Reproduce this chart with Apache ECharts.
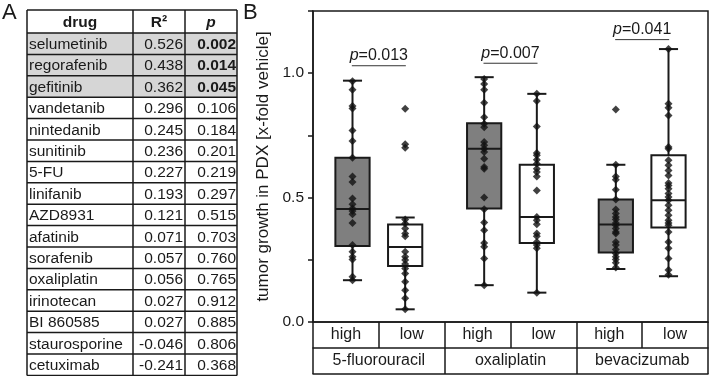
<!DOCTYPE html>
<html>
<head>
<meta charset="utf-8">
<script src="https://cdn.jsdelivr.net/npm/echarts@6/dist/echarts.min.js"></script>
<style>
  html, body { margin: 0; padding: 0; background: #fff; }
  #chart { width: 709px; height: 376px; }
</style>
</head>
<body>
<div id="chart"></div>
<script>
// panel A: table
const drugs = ["selumetinib", "regorafenib", "gefitinib", "vandetanib", "nintedanib", "sunitinib", "5-FU",
  "linifanib", "AZD8931", "afatinib", "sorafenib", "oxaliplatin", "irinotecan", "BI 860585", "staurosporine", "cetuximab"];
const r2Vals = [0.526, 0.438, 0.362, 0.296, 0.245, 0.236, 0.227, 0.193, 0.121, 0.071, 0.057, 0.056, 0.027, 0.027, -0.046, -0.241];
const pVals = [0.002, 0.014, 0.045, 0.106, 0.184, 0.201, 0.219, 0.297, 0.515, 0.703, 0.760, 0.765, 0.912, 0.885, 0.806, 0.368];

// panel B: boxplots
const drugGroups = ["5-fluorouracil", "oxaliplatin", "bevacizumab"];
const levels = ["high", "low", "high", "low", "high", "low"];
// [lower whisker, q1, median, q3, upper whisker]
const boxStats = [
  [0.168, 0.305, 0.454, 0.660, 0.970],
  [0.051, 0.225, 0.301, 0.392, 0.420],
  [0.148, 0.456, 0.696, 0.799, 0.984],
  [0.118, 0.318, 0.422, 0.632, 0.917],
  [0.213, 0.279, 0.392, 0.492, 0.632],
  [0.184, 0.380, 0.489, 0.670, 1.097]
];
const points = [
  [0.968, 0.933, 0.868, 0.858, 0.770, 0.727, 0.660, 0.585, 0.563, 0.496, 0.473, 0.456, 0.446, 0.433, 0.398, 0.309, 0.282, 0.262, 0.251, 0.182, 0.168],
  [0.857, 0.714, 0.700, 0.412, 0.396, 0.376, 0.356, 0.345, 0.282, 0.262, 0.249, 0.233, 0.215, 0.195, 0.162, 0.128, 0.095, 0.051],
  [0.977, 0.957, 0.933, 0.881, 0.823, 0.797, 0.783, 0.723, 0.710, 0.696, 0.683, 0.656, 0.623, 0.616, 0.500, 0.453, 0.400, 0.369, 0.318, 0.302, 0.255, 0.148],
  [0.917, 0.888, 0.786, 0.679, 0.670, 0.652, 0.636, 0.616, 0.603, 0.585, 0.529, 0.422, 0.409, 0.393, 0.356, 0.345, 0.322, 0.309, 0.296, 0.118],
  [0.854, 0.632, 0.585, 0.572, 0.532, 0.492, 0.452, 0.436, 0.422, 0.412, 0.398, 0.389, 0.376, 0.362, 0.356, 0.322, 0.309, 0.291, 0.275, 0.262, 0.251, 0.238, 0.219],
  [1.097, 0.877, 0.861, 0.830, 0.703, 0.696, 0.650, 0.630, 0.609, 0.589, 0.559, 0.549, 0.536, 0.516, 0.502, 0.489, 0.469, 0.449, 0.429, 0.409, 0.398, 0.389, 0.362, 0.322, 0.296, 0.255, 0.209, 0.190]
];
const pTexts = ["0.013", "0.007", "0.041"];
const pLineY = [1.03, 1.04, 1.135];
const yTicks = [0, 0.25, 0.5, 0.75, 1.0, 1.25];

const FONT = "'Liberation Sans', Arial, sans-serif";
const INK = "#1a1a1a";
// box centers on a 0..6 value axis, pulled toward each pair's middle
const xPos = [0.6, 1.4, 2.6, 3.4, 4.6, 5.4];

// table built as graphic elements
function buildTable() {
  const cols = [27, 133, 185, 237];
  const top = 10, headH = 23, rowH = 21.4;
  const els = [];
  const bottom = top + headH + drugs.length * rowH;
  for (let i = 0; i < 3; i++) {
    els.push({ type: "rect", shape: { x: cols[0], y: top + headH + i * rowH, width: cols[3] - cols[0], height: rowH },
      style: { fill: "#d6d6d6" }, silent: true });
  }
  const hdr = [["drug", "bold"], ["R\u00b2", "bold"], ["p", "italic bold"]];
  for (let c = 0; c < 3; c++) {
    els.push({ type: "text", style: { text: hdr[c][0], x: (cols[c] + cols[c + 1]) / 2, y: top + headH / 2 + 1,
      font: hdr[c][1] + " 15.5px " + FONT, fill: INK, textAlign: "center", textVerticalAlign: "middle", align: "center", verticalAlign: "middle" } });
  }
  for (let i = 0; i < drugs.length; i++) {
    const cy = top + headH + i * rowH + rowH / 2 + 1;
    const bold = pVals[i] < 0.05 ? "bold " : "";
    els.push({ type: "text", style: { text: drugs[i], x: cols[0] + 2, y: cy, font: "15.5px " + FONT, fill: INK,
      textAlign: "left", textVerticalAlign: "middle", align: "left", verticalAlign: "middle" } });
    els.push({ type: "text", style: { text: r2Vals[i].toFixed(3), x: cols[2] - 2, y: cy, font: "15.5px " + FONT, fill: INK,
      textAlign: "right", textVerticalAlign: "middle", align: "right", verticalAlign: "middle" } });
    els.push({ type: "text", style: { text: pVals[i].toFixed(3), x: cols[3] - 1, y: cy, font: bold + "15.5px " + FONT, fill: INK,
      textAlign: "right", textVerticalAlign: "middle", align: "right", verticalAlign: "middle" } });
  }
  const ls = { stroke: INK, lineWidth: 1.5 };
  for (let r = 0; r <= drugs.length + 1; r++) {
    const y = r === 0 ? top : top + headH + (r - 1) * rowH;
    els.push({ type: "line", shape: { x1: cols[0], y1: y, x2: cols[3], y2: y }, style: ls, silent: true });
  }
  for (let c = 0; c < cols.length; c++) {
    els.push({ type: "line", shape: { x1: cols[c], y1: top, x2: cols[c], y2: bottom }, style: ls, silent: true });
  }
  els.push({ type: "text", style: { text: "A", x: 2, y: 2, font: "22px " + FONT, fill: INK } });
  els.push({ type: "text", style: { text: "B", x: 243, y: 2, font: "22px " + FONT, fill: INK } });
  return els;
}

function renderBox(params, api) {
  const x = api.value(0);
  const lo = api.coord([x, api.value(1)]);
  const q1 = api.coord([x, api.value(2)]);
  const md = api.coord([x, api.value(3)]);
  const q3 = api.coord([x, api.value(4)]);
  const hi = api.coord([x, api.value(5)]);
  const unit = api.size([1, 0])[0];
  const half = unit * 0.26, cap = unit * 0.145;
  const ls = { stroke: INK, lineWidth: 2 };
  const cx = lo[0];
  return {
    type: "group",
    children: [
      { type: "line", shape: { x1: cx, y1: hi[1], x2: cx, y2: q3[1] }, style: ls },
      { type: "line", shape: { x1: cx, y1: q1[1], x2: cx, y2: lo[1] }, style: ls },
      { type: "line", shape: { x1: cx - cap, y1: hi[1], x2: cx + cap, y2: hi[1] }, style: ls },
      { type: "line", shape: { x1: cx - cap, y1: lo[1], x2: cx + cap, y2: lo[1] }, style: ls },
      { type: "rect", shape: { x: cx - half, y: q3[1], width: half * 2, height: q1[1] - q3[1] },
        style: { fill: api.value(6) ? "#7f7f7f" : "#ffffff", stroke: INK, lineWidth: 2 } },
      { type: "line", shape: { x1: cx - half, y1: md[1], x2: cx + half, y2: md[1] }, style: ls }
    ]
  };
}

function renderP(params, api) {
  const c = api.coord([api.value(0), api.value(1)]);
  return {
    type: "group",
    children: [
      { type: "line", shape: { x1: c[0] - 27, y1: c[1], x2: c[0] + 27, y2: c[1] }, style: { stroke: "#333", lineWidth: 1 } },
      { type: "text", style: { text: "{i|p}=" + pTexts[params.dataIndex], x: c[0], y: c[1] - 10,
          textAlign: "center", textVerticalAlign: "middle", align: "center", verticalAlign: "middle",
          fill: INK, font: "16px " + FONT,
          rich: { i: { fontStyle: "italic", fontSize: 16, fontFamily: FONT, fill: INK } } } }
    ]
  };
}

const boxData = boxStats.map((s, i) => [xPos[i]].concat(s, [levels[i] === "high" ? 1 : 0]));
const pointData = [];
points.forEach((arr, i) => arr.forEach(v => pointData.push([xPos[i], v])));
const pData = pTexts.map((t, i) => [2 * i + 1, pLineY[i]]);

const chart = echarts.init(document.getElementById("chart"));
const option = {
  animation: false,
  textStyle: { fontFamily: FONT },
  graphic: buildTable(),
  grid: { left: 313, right: 1, top: 11, bottom: 54, show: true, borderColor: INK, borderWidth: 1.5 },
  xAxis: [
    { type: "value", min: 0, max: 6, show: false, position: "top" },
    {
      type: "category", position: "bottom", data: levels,
      axisLine: { lineStyle: { color: INK, width: 1.5 } },
      axisTick: { show: true, interval: 0, length: 26, lineStyle: { color: INK, width: 1.5 } },
      axisLabel: { interval: 0, margin: 5, fontSize: 16, color: INK }
    },
    {
      type: "category", position: "bottom", offset: 26, data: drugGroups,
      axisLine: { lineStyle: { color: INK, width: 1.5 } },
      axisTick: { show: true, interval: 0, length: 26, lineStyle: { color: INK, width: 1.5 } },
      axisLabel: { interval: 0, margin: 5, fontSize: 16, color: INK }
    },
    {
      type: "category", position: "bottom", offset: 52, data: [""],
      axisLine: { lineStyle: { color: INK, width: 1.5 } },
      axisTick: { show: false }, axisLabel: { show: false }
    }
  ],
  yAxis: {
    type: "value", min: yTicks[0], max: yTicks[yTicks.length - 1], interval: 0.25,
    name: "tumor growth in PDX [x-fold vehicle]", nameLocation: "middle", nameGap: 28,
    nameTextStyle: { fontSize: 17, color: INK },
    axisLine: { show: true, lineStyle: { color: INK, width: 1.5 } },
    axisTick: { show: true, length: 5, lineStyle: { color: INK, width: 1.5 } },
    splitLine: { show: false },
    axisLabel: {
      fontSize: 15.5, color: INK, margin: 9,
      formatter: function (v) {
        return Math.abs(v * 2 - Math.round(v * 2)) < 1e-6 && v < 1.2 ? v.toFixed(1) : "";
      }
    }
  },
  series: [
    { type: "custom", xAxisIndex: 0, renderItem: renderBox, data: boxData, z: 2, clip: false },
    { type: "scatter", xAxisIndex: 0, data: pointData, symbol: "diamond", symbolSize: 8,
      itemStyle: { color: "#111" }, z: 4 },
    { type: "custom", xAxisIndex: 0, renderItem: renderP, data: pData, z: 3, clip: false }
  ]
};
chart.setOption(option);
</script>
</body>
</html>
